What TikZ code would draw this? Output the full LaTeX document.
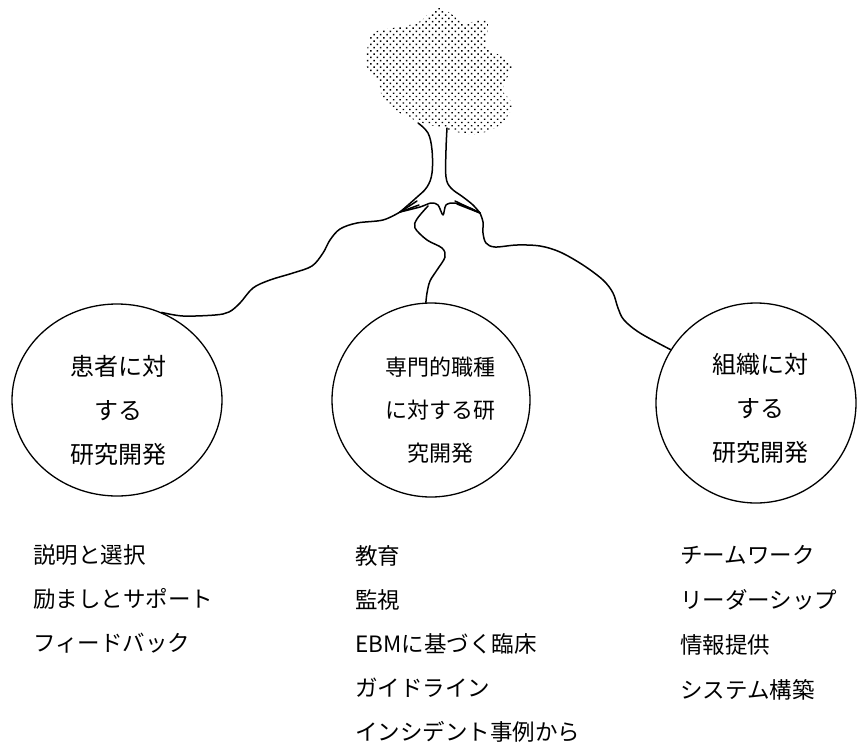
\documentclass[tikz,border=0pt]{standalone}
\usepackage{fontspec}
\setmainfont{Noto Sans CJK JP}
\usetikzlibrary{shapes.geometric,patterns.meta}

\tikzset{
  line/.style={line width=1.5pt, line cap=round, line join=round},
  bubble/.style={draw, line width=1.3pt, ellipse, inner sep=0pt},
  bubbletext/.style={align=center, font=\fontsize{24}{44}\selectfont},
  item/.style={anchor=west, inner sep=0pt, font=\fontsize{22.5}{26}\selectfont},
}

\begin{document}
\begin{tikzpicture}[x=1pt,y=-1pt]
\useasboundingbox (0,0) rectangle (859,747);

% crown of the tree
\path[pattern={Dots[distance=4.6pt, radius=1pt, angle=45]}, pattern color=black]
  plot[smooth cycle, tension=0.5] coordinates {
    (440,8) (453,15) (463,23) (483,20) (488,24) (487,47) (503,57) (512,66)
    (506,80) (503,91) (512,103) (509,114) (497,127) (473,135) (450,130)
    (420,122) (400,113) (383,100) (379,83) (367,67) (367,50) (373,33)
    (393,28) (417,23) (430,13)};

% trunk and root fork
\coordinate (rootL) at (400,212);
\coordinate (rootR) at (480,213);
\coordinate (rootM) at (428,206);
\draw[line] plot[smooth, tension=0.6] coordinates {
  (418,123) (428,133) (432,150) (432,173) (427,187) (416,198) (rootL)};
\draw[line] plot[smooth, tension=0.6] coordinates {
  (447,128) (446,150) (446,177) (451,188) (463,197) (473,205) (rootR)};
\draw[line] (rootL) -- (417,201);
\draw[line] (rootL) -- (419,205);
\draw[line] (rootR) -- (455,201);
\draw[line] (rootR) -- (457,204);
\draw[line] plot[smooth, tension=0.5] coordinates {
  (rootL) (420,207) (431,203) (438,205) (443,215) (446,205) (455,203) (470,208) (rootR)};

% the three fields
\node[bubble, minimum width=210pt, minimum height=192pt] (pat) at (117,400) {};
\node[bubble, minimum width=198pt, minimum height=194pt] (pro) at (431,400) {};
\node[bubble, minimum width=200pt, minimum height=200pt] (org) at (756,403) {};

\node[bubbletext] (patT) at (118,410) {患者に対\\する\\研究開発};
\node[bubbletext, font=\fontsize{22}{43}\selectfont] (proT) at (440,410) {専門的職種\\に対する研\\究開発};
\node[bubbletext] (orgT) at (760,408) {組織に対\\する\\研究開発};

% roots running to each field
\draw[line] plot[smooth, tension=0.55] coordinates {
  (rootL) (383,220) (357,223) (340,229) (330,240) (323,253) (312,266)
  (293,273) (270,280) (253,288) (240,303) (229,312) (215,315) (183,316) (pat.63)};
\draw[line] plot[smooth, tension=0.55] coordinates {
  (rootM) (417,219) (415,228) (427,240) (442,248) (445,257) (437,270)
  (430,281) (427,293) (pro.93)};
\draw[line] plot[smooth, tension=0.55] coordinates {
  (rootR) (483,222) (483,233) (486,243) (495,247) (517,245) (540,246)
  (560,252) (583,265) (603,280) (613,293) (618,308) (624,320) (640,333) (org.148)};

% lists under each field
\foreach \t [count=\i] in {説明と選択, 励ましとサポート, フィードバック}
  \node[item] (pl\i) at (33,{555+44*(\i-1)}) {\t};
\foreach \t [count=\i] in {教育, 監視, EBMに基づく臨床, ガイドライン, インシデント事例から}
  \node[item] (ml\i) at (355,{556+44*(\i-1)}) {\t};
\foreach \t [count=\i] in {チームワーク, リーダーシップ, 情報提供, システム構築}
  \node[item] (rl\i) at (680,{555+45*(\i-1)}) {\t};
\end{tikzpicture}
\end{document}
